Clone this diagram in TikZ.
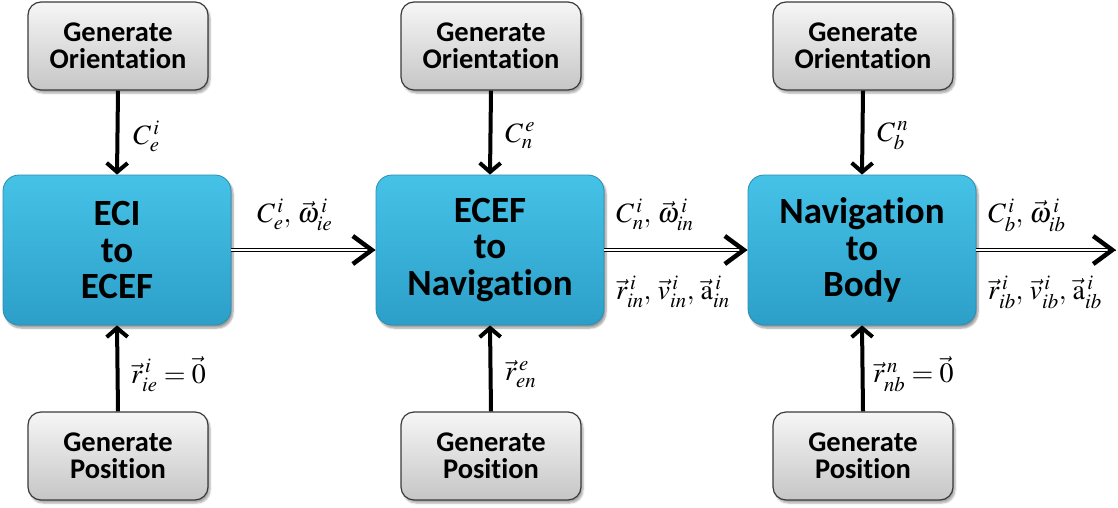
\documentclass[tikz,border=0pt]{standalone}
\usepackage{mathptmx}
\usepackage[no-math]{fontspec}
\setmainfont[RawFeature=-liga]{Carlito}
\usetikzlibrary{arrows.meta,shadows.blur}

\definecolor{bluetop}{HTML}{46C2E7}
\definecolor{bluebot}{HTML}{2C9FC8}
\definecolor{blueedge}{HTML}{2A8DB3}
\definecolor{greytop}{HTML}{F6F6F6}
\definecolor{greybot}{HTML}{C6C6C6}
\definecolor{greyedge}{HTML}{3A3A3A}

\tikzset{
  stage/.style={rounded corners=16pt, minimum width=228pt, minimum height=150pt,
    inner sep=0pt, top color=bluetop, bottom color=bluebot, draw=blueedge, line width=0.8pt,
    blur shadow={shadow xshift=2pt, shadow yshift=-3pt, shadow blur steps=6, shadow opacity=40},
    align=center, font=\fontsize{37}{36.5}\selectfont\bfseries},
  source/.style={rounded corners=13pt, minimum width=180pt, minimum height=88pt,
    inner sep=0pt, top color=greytop, bottom color=greybot, draw=greyedge, line width=1.2pt,
    blur shadow={shadow xshift=2pt, shadow yshift=-3pt, shadow blur steps=5, shadow opacity=35},
    align=center, font=\fontsize{28.5}{27.5}\selectfont\bfseries},
  feed/.style={line width=4pt, -{Straight Barb[length=9pt, width=21pt, line width=4pt]}},
  dbl/.style={double, double distance=2pt, line width=1.4pt},
  bigtip/.style={-{Straight Barb[length=19pt, width=28pt, line width=4.5pt]}},
  lbl/.style={anchor=west, inner sep=0pt, font=\fontsize{28}{30}\selectfont}
}

\begin{document}
\begin{tikzpicture}[x=1pt, y=-1pt]
  \useasboundingbox (0,0) rectangle (1118,508);

  % processing stages
  \node[stage] (b1) at (117,250) {ECI\\to\\ECEF};
  \node[stage] (b2) at (490,250) {ECEF\\to\\Navigation};
  \node[stage] (b3) at (862,250) {Navigation\\to\\Body};

  % orientation generators
  \node[source] (o1) at (118,46) {Generate\\Orientation};
  \node[source] (o2) at (491,46) {Generate\\Orientation};
  \node[source] (o3) at (863,46) {Generate\\Orientation};

  % position generators
  \node[source] (p1) at (118,456) {Generate\\Position};
  \node[source] (p2) at (491,456) {Generate\\Position};
  \node[source] (p3) at (863,456) {Generate\\Position};

  \coordinate (out) at (1116,250);

  % vertical feeds
  \draw[feed] (o1.south) -- (b1.north);
  \draw[feed] (o2.south) -- (b2.north);
  \draw[feed] (o3.south) -- (b3.north);
  \draw[feed] (p1.north) -- (b1.south);
  \draw[feed] (p2.north) -- (b2.south);
  \draw[feed] (p3.north) -- (b3.south);

  % chained double arrows between stages
  \draw[dbl] (b1.east) -- ([xshift=-4pt]b2.west);
  \draw[bigtip] ([xshift=-0.5pt]b2.west) -- (b2.west);
  \draw[dbl] (b2.east) -- ([xshift=-4pt]b3.west);
  \draw[bigtip] ([xshift=-0.5pt]b3.west) -- (b3.west);
  \draw[dbl] (b3.east) -- ([xshift=-4pt]out);
  \draw[bigtip] ([xshift=-0.5pt]out) -- (out);

  % feed labels
  \node[lbl] (lo1) at (133,136) {$C_e^{\,i}$};
  \node[lbl] (lo2) at (505,136) {$C_n^{\,e}$};
  \node[lbl] (lo3) at (877,136) {$C_b^{\,n}$};
  \node[lbl] (lp1) at (131,374) {$\vec r_{ie}^{\,i}=\vec 0$};
  \node[lbl] (lp2) at (505,374) {$\vec r_{en}^{\,e}$};
  \node[lbl] (lp3) at (873,374) {$\vec r_{nb}^{\,n}=\vec 0$};

  % transfer labels
  \node[lbl] (t1) at (257,215) {$C_e^{\,i},\,\vec\omega_{ie}^{\,i}$};
  \node[lbl] (t2) at (616,215) {$C_n^{\,i},\,\vec\omega_{in}^{\,i}$};
  \node[lbl] (t3) at (988,215) {$C_b^{\,i},\,\vec\omega_{ib}^{\,i}$};
  \node[lbl] (u2) at (616,292) {$\vec r_{in}^{\,i},\,\vec v_{in}^{\,i},\,\vec{\mathrm{a}}_{in}^{\,i}$};
  \node[lbl] (u3) at (988,292) {$\vec r_{ib}^{\,i},\,\vec v_{ib}^{\,i},\,\vec{\mathrm{a}}_{ib}^{\,i}$};
\end{tikzpicture}
\end{document}
